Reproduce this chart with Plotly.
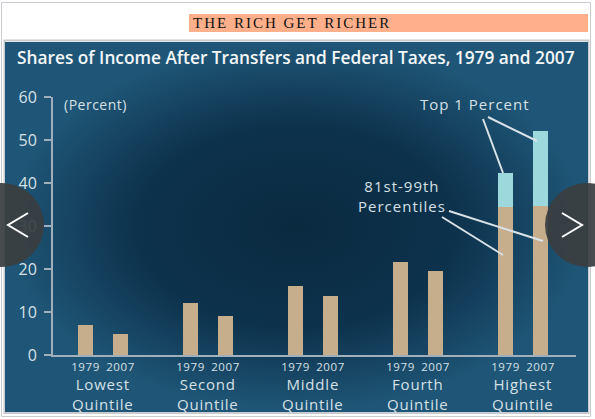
import plotly.graph_objects as go

# data
quintiles = ["Lowest<br>Quintile", "Second<br>Quintile", "Middle<br>Quintile",
             "Fourth<br>Quintile", "Highest<br>Quintile"]
years = ["1979", "2007"]
# share of after-tax income (highest quintile = 81st-99th percentiles part)
share_1979 = [7.0, 12.1, 16.0, 21.6, 34.4]
share_2007 = [4.9, 9.1, 13.7, 19.5, 34.7]
top1_1979 = 7.9
top1_2007 = 17.4

W, H = 595, 419
TAN = "#c6ad8c"
TEAL = "#9dd8dc"
AXIS = "#9fb0bc"
LABEL = "#d6e0e6"
FONT = "Open Sans"

OFF = 1 / 6      # half spacing between 1979 and 2007 bars
BAR_W = 0.135

x79 = [i - OFF for i in range(len(quintiles))]
x07 = [i + OFF for i in range(len(quintiles))]


def spaced(text, px=1):
    return f'<span style="letter-spacing:{px}px">{text}</span>'


fig = go.Figure()

# panel background (pixel frame on x/y)
fig.add_trace(go.Scatter(
    x=[5, 588, 588, 5, 5], y=[42, 42, 412, 412, 42],
    mode="lines", fill="toself", line=dict(width=0),
    fillgradient=dict(type="radial",
                      colorscale=[[0, "#0a2a40"], [0.55, "#0d324c"], [1, "#1f5677"]]),
    hoverinfo="skip", showlegend=False,
    xaxis="x", yaxis="y"))

# bars: tan = up to 99th percentile, teal = top 1 percent
fig.add_trace(go.Bar(
    x=x79 + x07, y=share_1979 + share_2007, width=BAR_W,
    marker=dict(color=TAN, line=dict(width=0)),
    xaxis="x2", yaxis="y2", showlegend=False))
fig.add_trace(go.Bar(
    x=[x79[-1], x07[-1]], y=[top1_1979, top1_2007], width=BAR_W,
    marker=dict(color=TEAL, line=dict(width=0)),
    xaxis="x2", yaxis="y2", showlegend=False))

fig.update_layout(
    width=W, height=H,
    margin=dict(l=0, r=0, t=0, b=0, autoexpand=False),
    paper_bgcolor="white", plot_bgcolor="rgba(0,0,0,0)",
    barmode="stack",
    font=dict(family=FONT, color=LABEL),
    xaxis=dict(domain=[0, 1], range=[0, W], visible=False, fixedrange=True, automargin=False),
    yaxis=dict(domain=[0, 1], range=[H, 0], visible=False, fixedrange=True, automargin=False),
    xaxis2=dict(domain=[53 / W, 576 / W], range=[-(103 - 53) / 105, (576 - 103) / 105],
                anchor="y2", showgrid=False, zeroline=False, automargin=False,
                showline=True, linecolor=AXIS, linewidth=2,
                tickvals=x79 + x07,
                ticktext=[spaced(y, 0.6) for y in [years[0]] * 5 + [years[1]] * 5],
                ticks="", tickfont=dict(size=11.5, color=LABEL), ticklabelstandoff=0),
    yaxis2=dict(domain=[1 - 355 / H, 1 - 97 / H], range=[0, 60],
                anchor="x2", showgrid=False, zeroline=False, automargin=False,
                showline=True, linecolor=AXIS, linewidth=2,
                tickvals=list(range(0, 61, 10)), ticks="outside", ticklen=7,
                tickcolor=AXIS, tickwidth=2,
                tickfont=dict(size=16, color=LABEL), ticklabelstandoff=4),
)

# quintile names under the years
for i, q in enumerate(quintiles):
    fig.add_annotation(x=i, y=1 - 394 / H, xref="x2", yref="paper",
                       text=spaced(q, 0.8), showarrow=False, align="center",
                       font=dict(size=15, color=LABEL), yanchor="middle")

# header band
fig.add_shape(type="rect", xref="paper", yref="paper",
              x0=189 / W, x1=588 / W, y0=1 - 32 / H, y1=1 - 14 / H,
              fillcolor="#ffb08a", line=dict(width=0))
fig.add_annotation(x=191 / W, y=1 - 23 / H, xref="paper", yref="paper",
                   text=spaced("THE RICH GET RICHER", 2), showarrow=False,
                   xanchor="left", yanchor="middle",
                   font=dict(family="Liberation Serif", size=15, color="#111111"))

# page and panel borders
fig.add_shape(type="rect", xref="paper", yref="paper",
              x0=1.5 / W, x1=590.5 / W, y0=1 - 416.5 / H, y1=1 - 2.5 / H,
              line=dict(color="#c8ccd0", width=1), layer="below")
fig.add_shape(type="rect", xref="paper", yref="paper",
              x0=4.5 / W, x1=588.5 / W, y0=1 - 413 / H, y1=1 - 40.5 / H,
              line=dict(color="#c8ccd0", width=2), layer="below")

# chart title and unit
fig.add_annotation(x=15 / W, y=1 - 58 / H, xref="paper", yref="paper",
                   text="Shares of Income After Transfers and Federal Taxes, 1979 and 2007",
                   showarrow=False, xanchor="left", yanchor="middle",
                   font=dict(size=17.3, color="#f4f7f9", weight=600))
fig.add_annotation(x=62 / W, y=1 - 104 / H, xref="paper", yref="paper",
                   text=spaced("(Percent)", 0.5), showarrow=False, xanchor="left",
                   yanchor="middle", font=dict(size=14, color=LABEL))

# callouts
fig.add_annotation(x=418 / W, y=1 - 104 / H, xref="paper", yref="paper",
                   text=spaced("Top 1 Percent", 1), showarrow=False, xanchor="left",
                   yanchor="middle", font=dict(size=15, color=LABEL))
fig.add_annotation(x=356 / W, y=1 - 195.5 / H, xref="paper", yref="paper",
                   text=spaced("81st-99th<br>Percentiles", 1), showarrow=False,
                   xanchor="left", yanchor="middle", align="center",
                   font=dict(size=15, color=LABEL))
for (x0, y0, x1, y1) in [(483, 119, 503, 173), (488, 117, 537, 141),
                         (442, 217, 503, 255), (449, 211, 543, 241)]:
    fig.add_shape(type="line", xref="x", yref="y", x0=x0, y0=y0, x1=x1, y1=y1,
                  line=dict(color="#d8e2e8", width=2), layer="above")

# carousel arrows overlay
for cx in (2, 587):
    fig.add_shape(type="circle", xref="x", yref="y",
                  x0=cx - 42, x1=cx + 42, y0=183, y1=267,
                  fillcolor="rgba(58,62,65,0.93)", line=dict(width=0), layer="above")
fig.add_shape(type="path", xref="x", yref="y", path="M 28 213 L 8 225 L 28 237",
              line=dict(color="white", width=2), layer="above")
fig.add_shape(type="path", xref="x", yref="y", path="M 562 213 L 582 225 L 562 237",
              line=dict(color="white", width=2), layer="above")

fig.write_html("out.html", config={"displayModeBar": False},
               post_script="document.body.style.margin='0';")
